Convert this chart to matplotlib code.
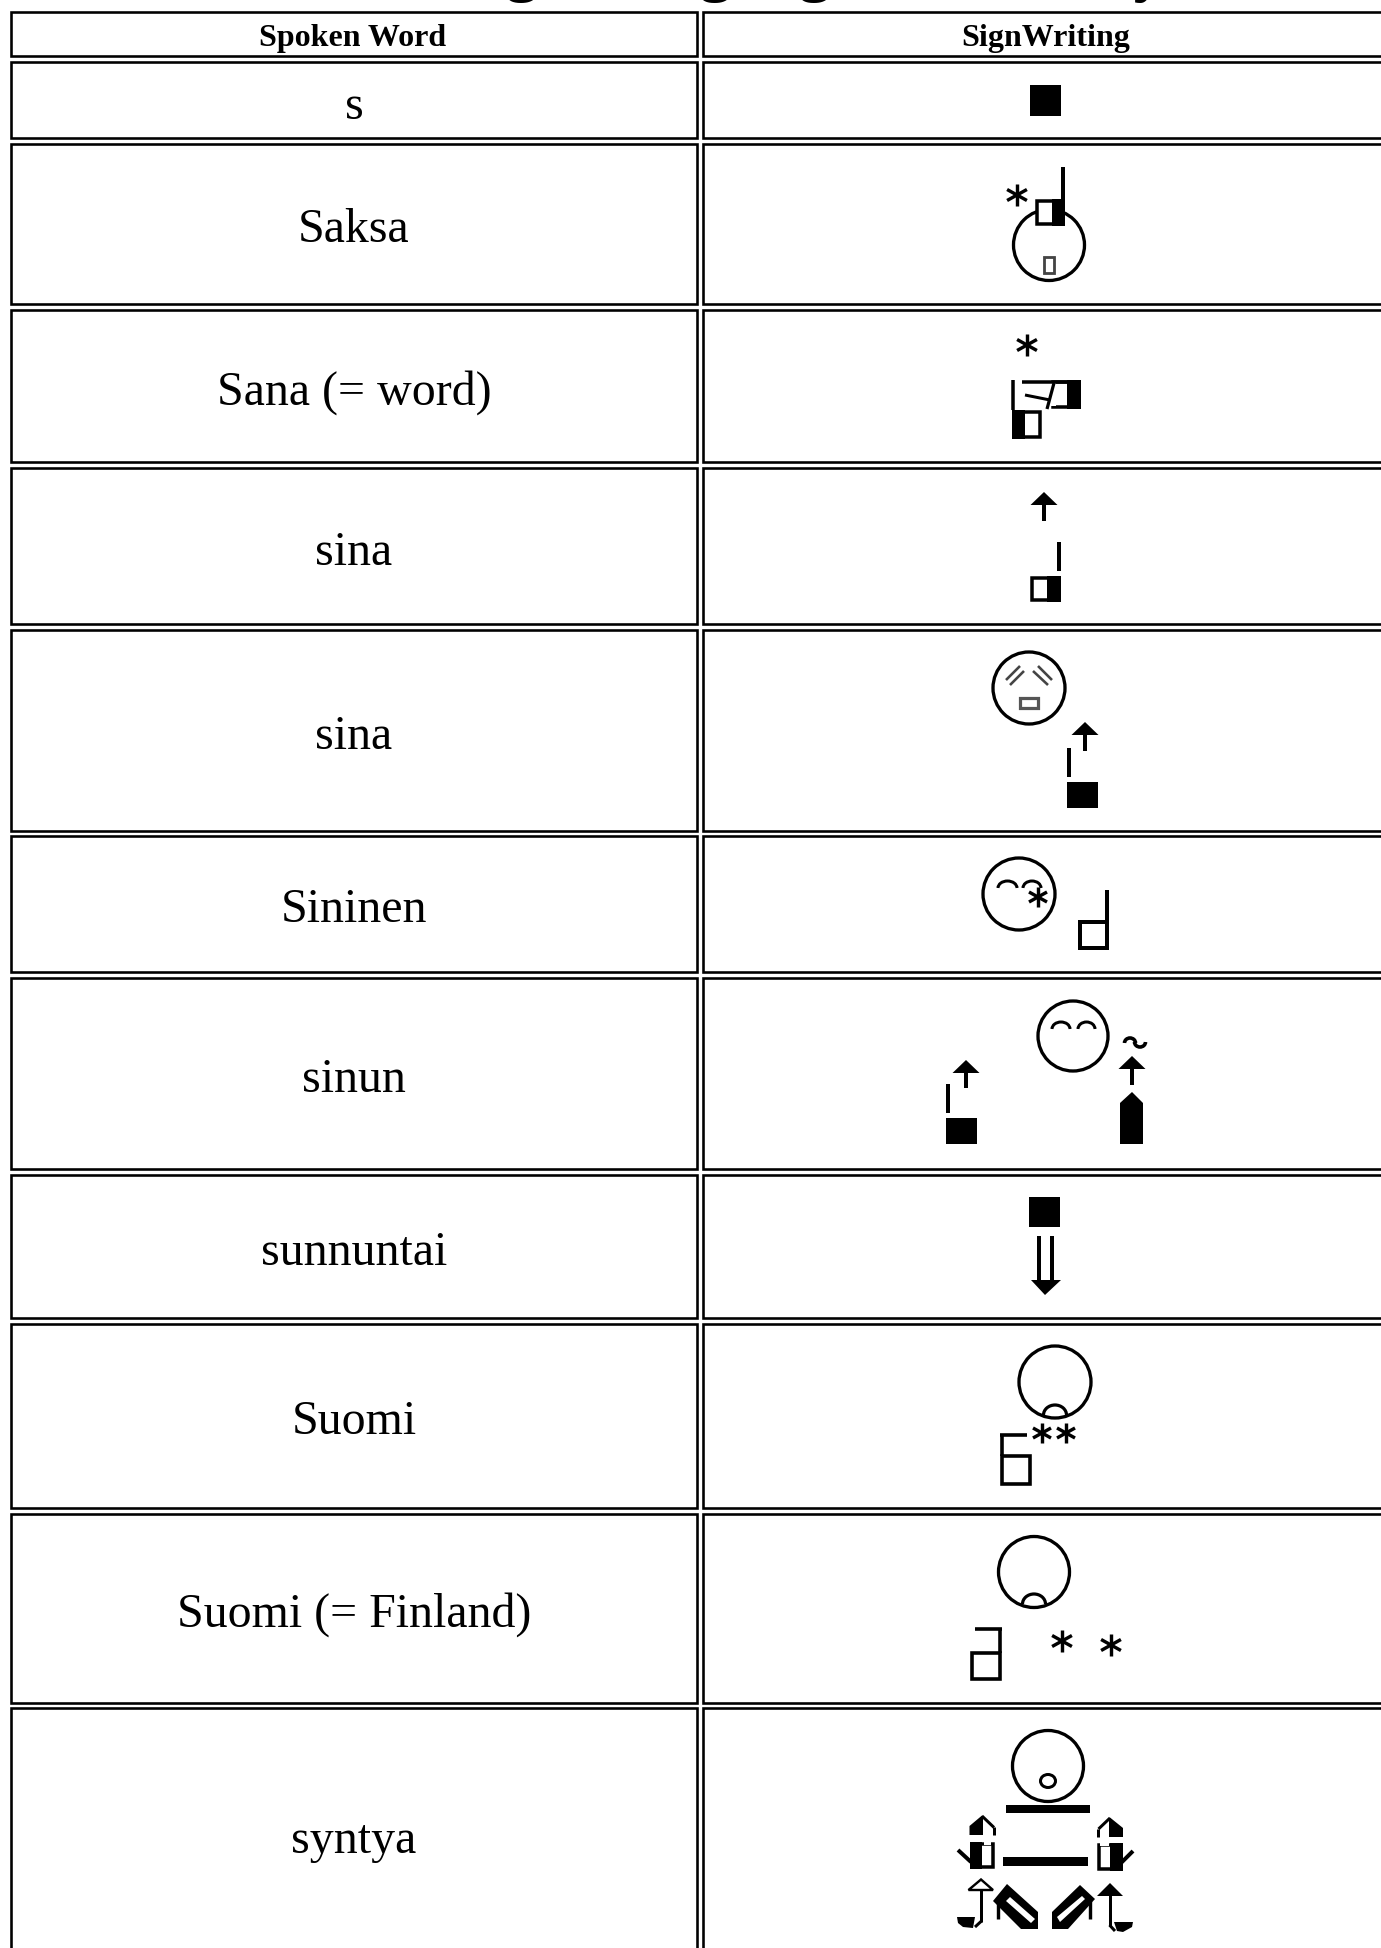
import matplotlib
matplotlib.use('Agg')
import matplotlib.pyplot as plt
from matplotlib.patches import Rectangle, Circle, Polygon, Arc, Ellipse

plt.rcParams['font.family'] = ['Liberation Serif', 'DejaVu Serif']

title = 'Finnish Sign Language Dictionary'
headers = ['Spoken Word', 'SignWriting']
words = ['s', 'Saksa', 'Sana (= word)', 'sina', 'sina', 'Sininen', 'sinun',
         'sunnuntai', 'Suomi', 'Suomi (= Finland)', 'syntya']

# row edges in pixels, first one is the header row
row_tops = [13, 63, 144.5, 311, 469, 631, 837, 979, 1176, 1325, 1515, 1709]
row_bottoms = [57, 139, 305, 463, 625, 832, 973, 1170, 1319, 1509, 1704, 1965]

fig = plt.figure(figsize=(13.81, 19.49), dpi=100)
ax = fig.add_axes([0, 0, 1, 1])
ax.set_xlim(0, 1381)
ax.set_ylim(1949, 0)
ax.axis('off')

PX = 0.72  # points per pixel at dpi 100


def line(x0, y0, x1, y1, w=4, c='black'):
    ax.plot([x0, x1], [y0, y1], color=c, lw=w * PX, solid_capstyle='butt', zorder=4)


def rect(x0, y0, x1, y1, face='black', w=0, edge='black', z=3):
    ax.add_patch(Rectangle((x0, y0), x1 - x0, y1 - y0, fc=face, ec=edge, lw=w * PX, zorder=z))


def face(x, y, r=35.5, w=3.3):
    ax.add_patch(Circle((x, y), r, fc='none', ec='black', lw=w * PX, zorder=2))


def star(x, y, r=11):
    line(x, y - r, x, y + r, 3.4)
    line(x - r * 0.9, y - r * 0.5, x + r * 0.9, y + r * 0.5, 3.4)
    line(x - r * 0.9, y + r * 0.5, x + r * 0.9, y - r * 0.5, 3.4)


def arrow_up(x, y_top, y_end):
    ax.add_patch(Polygon([(x - 13.5, y_top + 13), (x + 13.5, y_top + 13), (x, y_top)], fc='black', ec='none', zorder=3))
    line(x, y_top + 12, x, y_end, 4)


def half_box(x0, y0, x1, y1, xm, black_right=True):
    # outlined box with one half filled
    rect(x0 + 1.7, y0 + 1.7, x1 - 1.7, y1 - 1.7, 'white', 3.5)
    if black_right:
        rect(xm, y0, x1, y1)
    else:
        rect(x0, y0, xm, y1)


def brow(x0, x1, y):
    xm = (x0 + x1) / 2
    ax.add_patch(Arc((xm, y), x1 - x0, 14, theta1=180, theta2=360, ec='black', lw=3 * PX, zorder=3))


def mouth(x, y, wid=23):
    ax.add_patch(Arc((x, y), wid, 20, theta1=180, theta2=360, ec='black', lw=3.2 * PX, zorder=3))


def draw_table():
    for i, (top, bottom) in enumerate(zip(row_tops, row_bottoms)):
        for x0, x1 in ((11.3, 697.3), (702.7, 1400)):
            ax.add_patch(Rectangle((x0, top), x1 - x0, bottom - top, fc='white', ec='black',
                                   lw=2.6 * PX, zorder=1))
        mid = (top + bottom) / 2
        if i == 0:
            ax.text(353, mid + 11, headers[0], ha='center', va='baseline', fontsize=23, fontweight='bold')
            ax.text(1046, mid + 11, headers[1], ha='center', va='baseline', fontsize=23, fontweight='bold')
        elif i == len(words):
            ax.text(354, mid + 16, words[i - 1], ha='center', va='baseline', fontsize=34.5)
        else:
            ax.text(354, mid + 17.5, words[i - 1], ha='center', va='baseline', fontsize=34.5)
    ax.text(231, -11, title, ha='left', va='baseline', fontsize=46, fontweight='bold')


def draw_signs():
    # s
    rect(1030, 86, 1061, 117)

    # Saksa
    star(1017, 196)
    face(1049, 246)
    half_box(1035, 200, 1065, 227, 1052)
    line(1063, 168, 1063, 200, 4)
    rect(1044, 258, 1054, 274, 'white', 2.8, '#444444')

    # Sana
    star(1027, 346)
    half_box(1051, 381, 1081, 410, 1067)
    rect(1047, 384.2, 1056, 407, 'white', 0, 'white')
    line(1022, 382.5, 1081, 382.5, 3.5)
    line(1025, 396, 1050, 401, 3)
    line(1054, 384, 1047, 410, 3.2)
    half_box(1012, 411, 1042, 440, 1025, black_right=False)
    line(1013.5, 381, 1013.5, 411, 3.5)

    # sina
    arrow_up(1044, 493, 522)
    line(1059, 543, 1059, 572, 4)
    half_box(1030, 577, 1061, 603, 1047)

    # sina 2
    face(1029, 689, 36)
    for a in ((1006, 681, 1020, 667), (1010, 686, 1024, 672),
              (1033, 672, 1048, 686), (1038, 667, 1052, 681)):
        line(a[0], a[1], a[2], a[3], 2.6, '#444444')
    rect(1020, 699, 1038, 709, 'white', 3.2, '#555555')
    arrow_up(1085, 723, 752)
    line(1069, 749, 1069, 778, 4)
    rect(1067, 783, 1098, 809)

    # Sininen
    face(1019, 895, 36)
    brow(998, 1017, 889)
    brow(1023, 1041, 889)
    star(1038, 898, 10)
    rect(1080.5, 922.5, 1107, 949, 'white', 4)
    line(1107, 891, 1107, 922, 4)

    # sinun
    face(1073, 1037, 35)
    brow(1052, 1070, 1030)
    brow(1078, 1095, 1030)
    ax.add_patch(Arc((1130, 1044), 11, 10, theta1=180, theta2=360, ec='black', lw=3.6 * PX, zorder=3))
    ax.add_patch(Arc((1140, 1043), 11, 10, theta1=0, theta2=180, ec='black', lw=3.6 * PX, zorder=3))
    arrow_up(1132, 1057, 1086)
    ax.add_patch(Polygon([(1120, 1104), (1132, 1093), (1143, 1104), (1143, 1145), (1120, 1145)],
                         fc='black', ec='none', zorder=3))
    arrow_up(966, 1061, 1089)
    line(948, 1085, 948, 1114, 4)
    rect(946, 1119, 977, 1145)

    # sunnuntai
    rect(1029, 1198, 1060, 1228)
    line(1039, 1237, 1039, 1282, 4)
    line(1052, 1237, 1052, 1282, 4)
    ax.add_patch(Polygon([(1031, 1281), (1061, 1281), (1045, 1296)], fc='black', ec='none', zorder=3))

    # Suomi
    face(1055, 1383, 36)
    mouth(1055, 1416)
    star(1042, 1434, 10)
    star(1066, 1434, 10)
    rect(1002, 1457, 1030, 1485, 'white', 3.6)
    line(1002, 1435, 1002, 1457, 3.6)
    line(1000.2, 1436, 1027, 1436, 3.6)

    # Suomi (= Finland)
    face(1034, 1573)
    mouth(1034, 1605)
    rect(972, 1654, 1000, 1680, 'white', 3.6)
    line(1000, 1629, 1000, 1654, 3.6)
    line(975, 1630, 1001.8, 1630, 3.6)
    star(1062, 1642)
    star(1111, 1646)

    # syntya
    face(1048, 1767)
    ax.add_patch(Ellipse((1048, 1782), 15, 13, fc='none', ec='black', lw=3 * PX, zorder=3))
    rect(1006, 1806, 1090, 1814)
    rect(1003, 1858, 1088, 1867)

    # left hand
    ax.add_patch(Polygon([(969.5, 1827), (982, 1816.5), (983, 1817), (983, 1836), (969.5, 1836)],
                         fc='black', ec='none', zorder=3))
    line(982, 1817, 994, 1828.5, 3)
    line(994, 1828, 994, 1836, 3)
    half_box(970, 1843, 995, 1870, 982, black_right=False)
    rect(984, 1841, 991.5, 1846, 'white', 0, 'white')
    line(958, 1851, 971, 1863, 4)

    # right hand
    ax.add_patch(Polygon([(1109, 1819), (1110, 1818.5), (1123, 1829), (1123, 1838), (1109, 1838)],
                         fc='black', ec='none', zorder=3))
    line(1110, 1819, 1098.5, 1830, 3)
    line(1098.5, 1829.5, 1098.5, 1838, 3)
    half_box(1097, 1844, 1123, 1872, 1110)
    rect(1100.5, 1842, 1109, 1847, 'white', 0, 'white')
    line(1133, 1852, 1121, 1864, 4)

    # hook arrows
    ax.add_patch(Polygon([(968.5, 1891), (993, 1891), (981, 1880.5)], fc='white', ec='black', lw=2.4 * PX, zorder=3))
    line(981, 1891, 981, 1923, 3)
    line(981.5, 1922, 975, 1928, 3)
    ax.add_patch(Polygon([(957, 1918), (975, 1918), (973, 1929), (963, 1928), (958, 1924)], fc='black', ec='none', zorder=3))

    ax.add_patch(Polygon([(1097, 1897), (1123, 1897), (1110, 1884)], fc='black', ec='none', zorder=3))
    line(1110, 1896, 1110, 1927, 3)
    line(1109.5, 1926, 1115, 1932, 3)
    ax.add_patch(Polygon([(1114, 1923), (1133, 1923), (1132, 1928), (1123, 1933), (1117, 1932)], fc='black', ec='none', zorder=3))

    # slanted hands
    ax.add_patch(Polygon([(1007, 1885), (1038, 1913), (1038, 1930), (1021, 1930), (993, 1902)], fc='black', ec='none', zorder=3))
    ax.add_patch(Polygon([(1010, 1898), (1035, 1920), (1031, 1924), (1006, 1902)], fc='white', ec='none', zorder=3))
    line(998, 1902, 998, 1920, 3.4)
    ax.add_patch(Polygon([(1052, 1930), (1052, 1913), (1080, 1886), (1095, 1900), (1068, 1930)], fc='black', ec='none', zorder=3))
    ax.add_patch(Polygon([(1057, 1918), (1082, 1897), (1085, 1900), (1060, 1923)], fc='white', ec='none', zorder=3))
    line(1090, 1902, 1090, 1920, 3.4)


if __name__ == '__main__':
    draw_table()
    draw_signs()
    ax.set_xlim(0, 1381)
    ax.set_ylim(1949, 0)
    fig.savefig('out.png', dpi=100)
